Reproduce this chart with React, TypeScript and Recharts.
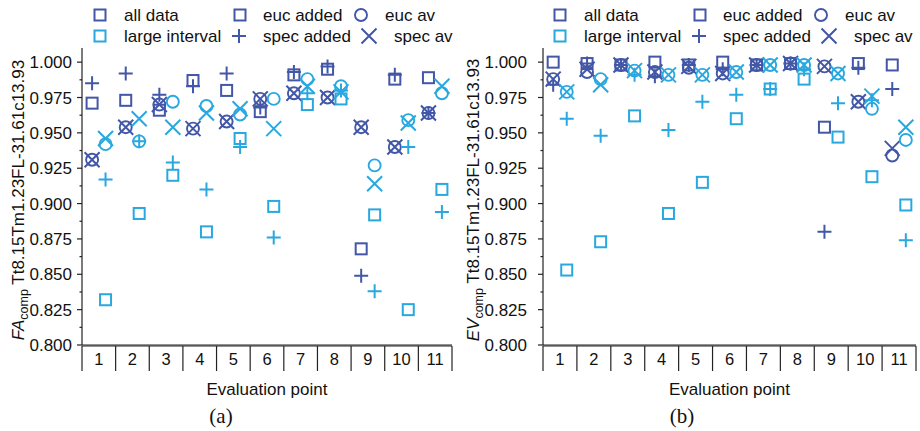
import { ScatterChart, Scatter, XAxis, YAxis } from "recharts";

const categories = [1, 2, 3, 4, 5, 6, 7, 8, 9, 10, 11];
const xTicks = [0.5, 1, 1.5, 2, 2.5, 3, 3.5, 4, 4.5, 5, 5.5, 6, 6.5, 7, 7.5, 8, 8.5, 9, 9.5, 10, 10.5, 11, 11.5];
const yMajorTicks = [0.8, 0.825, 0.85, 0.875, 0.9, 0.925, 0.95, 0.975, 1.0];
const yMinorTicks = [0.8125, 0.8375, 0.8625, 0.8875, 0.9125, 0.9375, 0.9625, 0.9875];

// FA_comp, all data
const faAllEucAdded = [0.971, 0.973, 0.966, 0.987, 0.98, 0.965, 0.991, 0.995, 0.868, 0.988, 0.989];
const faAllSpecAdded = [0.985, 0.992, 0.977, 0.983, 0.992, 0.968, 0.993, 0.997, 0.849, 0.991, 0.964];
const faAllEucAv = [0.931, 0.954, 0.97, 0.953, 0.958, 0.974, 0.978, 0.975, 0.954, 0.94, 0.964];
const faAllSpecAv = [0.931, 0.954, 0.97, 0.953, 0.958, 0.974, 0.978, 0.975, 0.954, 0.94, 0.964];
// FA_comp, large interval
const faLargeEucAdded = [0.832, 0.893, 0.92, 0.88, 0.946, 0.898, 0.97, 0.974, 0.892, 0.825, 0.91];
const faLargeSpecAdded = [0.917, 0.944, 0.929, 0.91, 0.94, 0.876, 0.978, 0.98, 0.838, 0.94, 0.894];
const faLargeEucAv = [0.942, 0.944, 0.972, 0.969, 0.963, 0.974, 0.988, 0.983, 0.927, 0.959, 0.978];
const faLargeSpecAv = [0.946, 0.96, 0.954, 0.964, 0.967, 0.953, 0.983, 0.979, 0.914, 0.957, 0.983];

// EV_comp, all data
const evAllEucAdded = [1.0, 0.999, 0.998, 1.0, 0.998, 1.0, 0.998, 0.999, 0.954, 0.999, 0.998];
const evAllSpecAdded = [0.984, 0.999, 0.998, 0.99, 0.998, 0.995, 0.998, 0.999, 0.88, 0.996, 0.981];
const evAllEucAv = [0.988, 0.993, 0.998, 0.993, 0.996, 0.992, 0.998, 0.999, 0.997, 0.972, 0.934];
const evAllSpecAv = [0.988, 0.995, 0.998, 0.993, 0.997, 0.992, 0.998, 0.999, 0.997, 0.972, 0.939];
// EV_comp, large interval
const evLargeEucAdded = [0.853, 0.873, 0.962, 0.893, 0.915, 0.96, 0.981, 0.988, 0.947, 0.919, 0.899];
const evLargeSpecAdded = [0.96, 0.948, 0.991, 0.952, 0.972, 0.977, 0.981, 0.995, 0.971, 0.973, 0.874];
const evLargeEucAv = [0.979, 0.988, 0.994, 0.991, 0.991, 0.993, 0.998, 0.998, 0.992, 0.967, 0.945];
const evLargeSpecAv = [0.979, 0.984, 0.994, 0.991, 0.991, 0.993, 0.998, 0.998, 0.992, 0.976, 0.954];

const DARK = "#4257a7";
const LIGHT = "#29a8e0";
const FONT = '"Liberation Sans", Arial, sans-serif';
const AXIS = "#222";

type Kind = "square" | "plus" | "circle" | "cross";

function Marker({ cx, cy, kind, color }: { cx: number; cy: number; kind: Kind; color: string }) {
  if (cx == null || cy == null) return null;
  if (kind === "square")
    return <rect x={cx - 5.5} y={cy - 5.5} width={11} height={11} fill="none" stroke={color} strokeWidth={2} />;
  if (kind === "circle") return <circle cx={cx} cy={cy} r={6} fill="none" stroke={color} strokeWidth={1.9} />;
  if (kind === "plus")
    return <path d={`M${cx - 7},${cy}H${cx + 7}M${cx},${cy - 7}V${cy + 7}`} stroke={color} strokeWidth={2} fill="none" />;
  return (
    <path
      d={`M${cx - 7.5},${cy - 7.5}L${cx + 7.5},${cy + 7.5}M${cx - 7.5},${cy + 7.5}L${cx + 7.5},${cy - 7.5}`}
      stroke={color}
      strokeWidth={2}
      fill="none"
    />
  );
}

// dark group sits left of the category centre, light group right of it
const toPoints = (values: number[], shift: number) => values.map((v, i) => ({ x: categories[i] + shift, y: v }));

interface SeriesSet {
  eucAdded: number[];
  specAdded: number[];
  eucAv: number[];
  specAv: number[];
}

function YTick({ x, y, payload, gap }: any) {
  const major = yMajorTicks.includes(payload.value);
  return (
    <g>
      <line x1={x - (major ? 5 : 2.5)} x2={x} y1={y} y2={y} stroke={AXIS} strokeWidth={1.2} />
      {major && (
        <text x={x - gap} y={y} dy={6} textAnchor="end" fontSize={17} fontFamily={FONT} fill="#111">
          {payload.value.toFixed(3)}
        </text>
      )}
    </g>
  );
}

function XTick({ x, y, payload }: any) {
  const v = payload.value;
  if (Number.isInteger(v))
    return (
      <text x={x} y={y + 18.5} textAnchor="middle" fontSize={16.5} fontFamily={FONT} fill="#111">
        {v}
      </text>
    );
  return <line x1={x} x2={x} y1={y} y2={y + 25} stroke={AXIS} strokeWidth={1.2} />;
}

function LegendBlock() {
  const rows: { kind: Kind; color: string; sx: number; tx: number; sy: number; label: string }[] = [
    { kind: "square", color: DARK, sx: 100, tx: 124, sy: 15, label: "all data" },
    { kind: "square", color: LIGHT, sx: 100, tx: 124, sy: 36, label: "large interval" },
    { kind: "square", color: DARK, sx: 240, tx: 263, sy: 15, label: "euc added" },
    { kind: "plus", color: DARK, sx: 239, tx: 263, sy: 36, label: "spec added" },
    { kind: "circle", color: DARK, sx: 361, tx: 385, sy: 15, label: "euc av" },
    { kind: "cross", color: DARK, sx: 369, tx: 394, sy: 36, label: "spec av" },
  ];
  return (
    <g>
      {rows.map((r) => (
        <g key={r.label}>
          <Marker cx={r.sx} cy={r.sy} kind={r.kind} color={r.color} />
          <text x={r.tx} y={r.sy + 6} fontSize={17} fontFamily={FONT} fill="#111">
            {r.label}
          </text>
        </g>
      ))}
    </g>
  );
}

interface PanelProps {
  left: number;
  plotLeft: number;
  plotRight: number;
  tickGap: number;
  titleX: number;
  letterX: number;
  metric: string;
  letter: string;
  all: SeriesSet;
  large: SeriesSet;
}

function Panel({ left, plotLeft, plotRight, tickGap, titleX, letterX, metric, letter, all, large }: PanelProps) {
  const W = 460;
  const H = 431;
  const groups: { set: SeriesSet; color: string; shift: number; name: string }[] = [
    { set: all, color: DARK, shift: -0.2, name: "all" },
    { set: large, color: LIGHT, shift: 0.2, name: "large" },
  ];
  const kinds: { key: keyof SeriesSet; kind: Kind }[] = [
    { key: "eucAdded", kind: "square" },
    { key: "specAdded", kind: "plus" },
    { key: "eucAv", kind: "circle" },
    { key: "specAv", kind: "cross" },
  ];
  const midX = (plotLeft + plotRight) / 2;
  return (
    <div style={{ position: "absolute", left, top: 0, width: W, height: H }}>
      <ScatterChart width={W} height={H} margin={{ top: 48, right: W - plotRight, bottom: 60, left: 0 }}>
        <XAxis
          xAxisId="x"
          dataKey="x"
          type="number"
          domain={[0.5, 11.5]}
          ticks={xTicks}
          interval={0}
          tickSize={0}
          tickMargin={0}
          tickLine={false}
          height={25}
          axisLine={{ stroke: AXIS, strokeWidth: 1.2 }}
          tick={<XTick />}
        />
        <XAxis
          xAxisId="frame"
          type="number"
          domain={[0.5, 11.5]}
          height={1}
          tick={false}
          tickLine={false}
          axisLine={{ stroke: AXIS, strokeWidth: 1.2 }}
        />
        <YAxis
          dataKey="y"
          type="number"
          domain={[0.8, 1.01]}
          ticks={[...yMajorTicks, ...yMinorTicks]}
          interval={0}
          tickSize={0}
          tickMargin={0}
          tickLine={false}
          width={plotLeft}
          axisLine={{ stroke: AXIS, strokeWidth: 1.2 }}
          tick={<YTick gap={tickGap} />}
        />
        {groups.map((g) =>
          kinds.map((k) => (
            <Scatter
              key={`${g.name}-${k.key}`}
              xAxisId="x"
              data={toPoints(g.set[k.key], g.shift)}
              isAnimationActive={false}
              shape={(p: any) => <Marker cx={p.cx} cy={p.cy} kind={k.kind} color={g.color} />}
            />
          ))
        )}
      </ScatterChart>
      <svg width={W} height={H} style={{ position: "absolute", left: 0, top: 0, pointerEvents: "none" }}>
        <LegendBlock />
        <text
          transform={`translate(${titleX},200) rotate(-90)`}
          textAnchor="middle"
          dy={6}
          fontSize={17}
          fontFamily={FONT}
          fill="#111"
        >
          <tspan fontStyle="italic">{metric}</tspan>
          <tspan fontSize={12.5} dy={4}>comp</tspan>
          <tspan dy={-4}> Tt8.15Tm1.23FL-31.61c13.93</tspan>
        </text>
        <text x={midX} y={395} textAnchor="middle" fontSize={17} fontFamily={FONT} fill="#111">
          Evaluation point
        </text>
        <text x={letterX} y={423} textAnchor="middle" fontSize={21} fontFamily='"Liberation Serif", "Times New Roman", serif' fill="#111">
          {letter}
        </text>
      </svg>
    </div>
  );
}

export default function App() {
  return (
    <div style={{ position: "absolute", left: 0, top: 0, width: 920, height: 431, background: "#fff", overflow: "hidden" }}>
      <Panel
        left={0}
        plotLeft={82}
        plotRight={452}
        tickGap={10}
        titleX={18}
        letterX={221}
        metric="FA"
        letter="(a)"
        all={{ eucAdded: faAllEucAdded, specAdded: faAllSpecAdded, eucAv: faAllEucAv, specAv: faAllSpecAv }}
        large={{ eucAdded: faLargeEucAdded, specAdded: faLargeSpecAdded, eucAv: faLargeEucAv, specAv: faLargeSpecAv }}
      />
      <Panel
        left={460}
        plotLeft={83}
        plotRight={456}
        tickGap={16}
        titleX={13}
        letterX={222}
        metric="EV"
        letter="(b)"
        all={{ eucAdded: evAllEucAdded, specAdded: evAllSpecAdded, eucAv: evAllEucAv, specAv: evAllSpecAv }}
        large={{ eucAdded: evLargeEucAdded, specAdded: evLargeSpecAdded, eucAv: evLargeEucAv, specAv: evLargeSpecAv }}
      />
    </div>
  );
}
